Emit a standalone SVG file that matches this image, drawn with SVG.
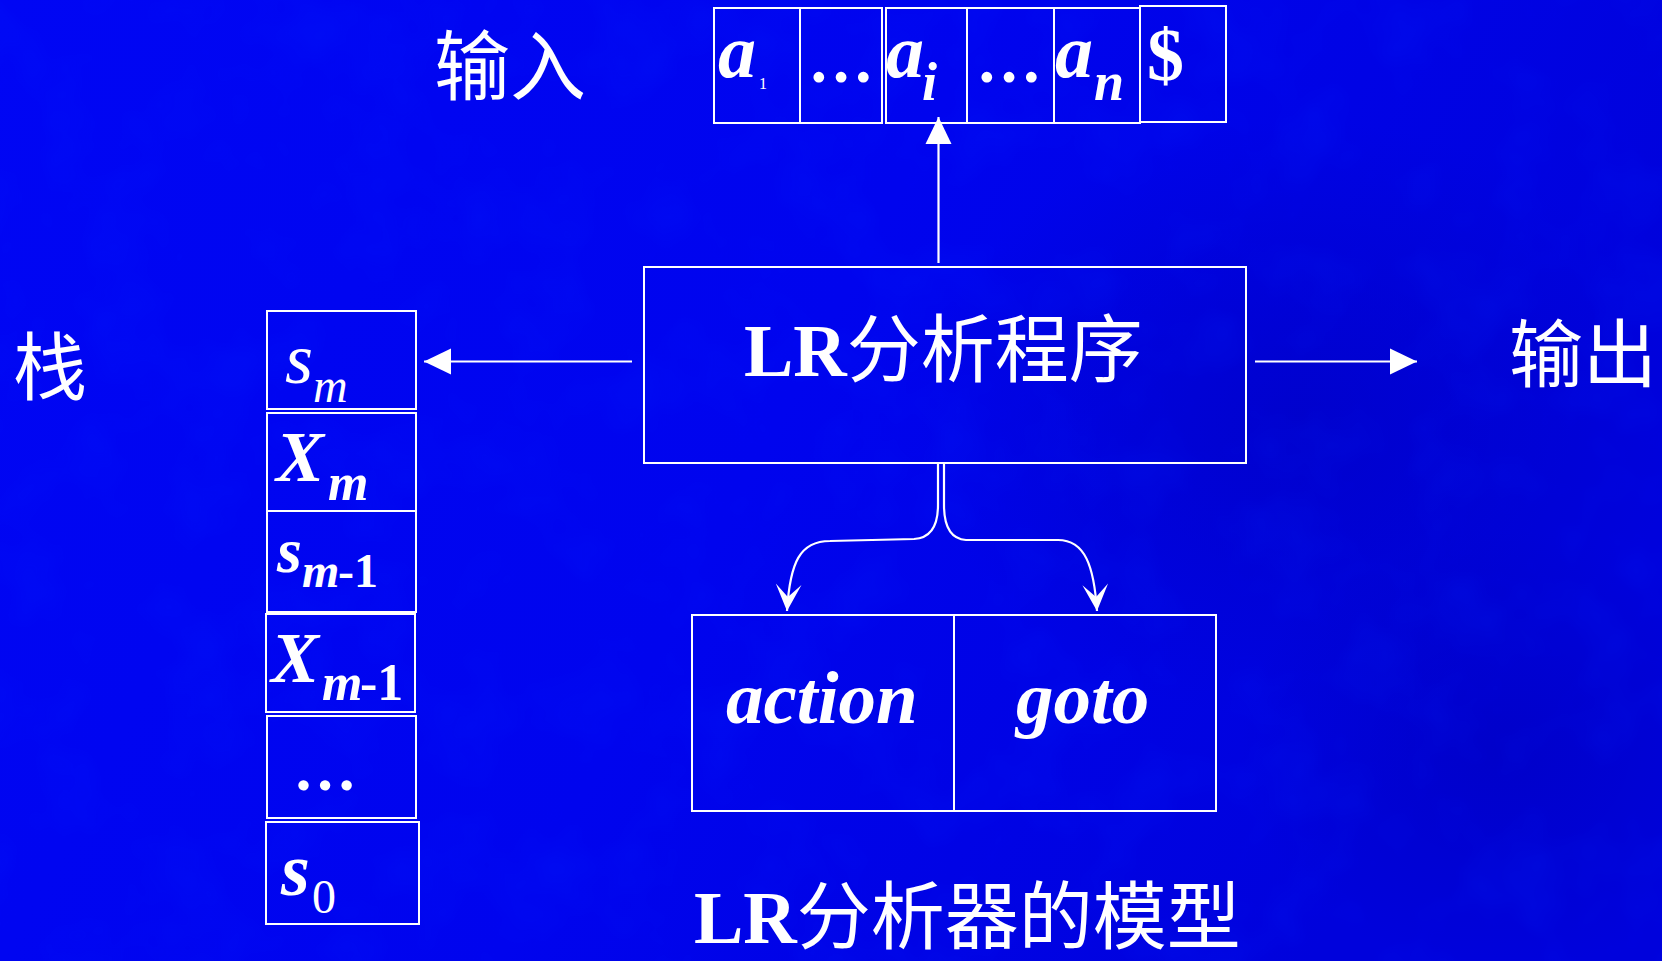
<svg xmlns="http://www.w3.org/2000/svg" width="1662" height="961" viewBox="0 0 1662 961">
<defs>
<linearGradient id="bg" x1="0" y1="0" x2="1" y2="0.3">
<stop offset="0" stop-color="#0006f4"/>
<stop offset="0.55" stop-color="#0004ee"/>
<stop offset="1" stop-color="#0002dc"/>
</linearGradient>
<radialGradient id="dark1" cx="0.5" cy="0.5" r="0.5">
<stop offset="0" stop-color="#0000b8" stop-opacity="0.5"/>
<stop offset="1" stop-color="#0000b8" stop-opacity="0"/>
</radialGradient>
<filter id="mottle" x="0" y="0" width="1" height="1">
<feTurbulence type="fractalNoise" baseFrequency="0.012" numOctaves="3" seed="7"/>
<feColorMatrix type="matrix" values="0 0 0 0 0  0 0 0 0 0.02  0 0 0 0 1  0 0 0 -1.6 0.9"/>
</filter>
<marker id="stealth" markerWidth="30" markerHeight="30" refX="0" refY="0" viewBox="-26 -14 28 28" orient="auto" markerUnits="userSpaceOnUse">
<path d="M0,0 L-25,-12 L-13,0 L-25,12 Z" fill="#fff"/>
</marker>
<marker id="tri" markerWidth="30" markerHeight="30" refX="0" refY="0" viewBox="-28 -14 30 28" orient="auto" markerUnits="userSpaceOnUse">
<path d="M0,0 L-27,-13 L-27,13 Z" fill="#fff"/>
</marker>
</defs>
<style>
.box{fill:none;stroke:#fff;stroke-width:2}
.ln{fill:none;stroke:#fff;stroke-width:2.2}
.t{fill:#fff;font-family:"Liberation Serif","Times New Roman",serif}
.bi{font-weight:bold;font-style:italic}
.i{font-style:italic}
.b{font-weight:bold}
.cjk{fill:#fff;font-family:"Liberation Serif","Noto Sans CJK SC",serif}
</style>
<rect x="0" y="0" width="1662" height="961" fill="url(#bg)"/>
<ellipse cx="1300" cy="420" rx="380" ry="300" fill="url(#dark1)"/>
<ellipse cx="1500" cy="750" rx="260" ry="220" fill="url(#dark1)"/>
<rect x="0" y="0" width="1662" height="961" filter="url(#mottle)" opacity="0.25"/>

<g id="label-input"><text class="cjk" x="434" y="94" font-size="76">输入</text></g>
<g id="label-stack"><text class="cjk" x="13" y="394" font-size="74">栈</text></g>
<g id="label-output"><text class="cjk" x="1509" y="381" font-size="74">输出</text></g>

<g id="input-tape">
<rect class="box" x="714" y="8" width="86" height="115"/>
<rect class="box" x="800" y="8" width="82" height="115"/>
<rect class="box" x="886" y="8" width="81" height="115"/>
<rect class="box" x="967" y="8" width="87" height="115"/>
<rect class="box" x="1054" y="8" width="86" height="115"/>
<rect class="box" x="1140" y="6" width="86" height="116"/>
<text class="t bi" x="718" y="77" font-size="76">a</text>
<text class="t" x="759" y="89" font-size="16">1</text>
<text class="t b" x="808" y="82" font-size="66">…</text>
<text class="t bi" x="886" y="77" font-size="76">a</text>
<text class="t bi" x="922" y="100" font-size="54">i</text>
<text class="t b" x="976" y="82" font-size="66">…</text>
<text class="t bi" x="1055" y="77" font-size="76">a</text>
<text class="t bi" x="1094" y="100" font-size="54">n</text>
<text class="t b" x="1147" y="80" font-size="74">$</text>
</g>

<g id="stack">
<rect class="box" x="267" y="311" width="149" height="98"/>
<rect class="box" x="267" y="413" width="149" height="98"/>
<rect class="box" x="267" y="511" width="149" height="101"/>
<rect class="box" x="266" y="614" width="149" height="98"/>
<rect class="box" x="267" y="716" width="149" height="102"/>
<rect class="box" x="266" y="822" width="153" height="102"/>
<text class="t i" x="285" y="383" font-size="72">s</text>
<text class="t i" x="313" y="402" font-size="48">m</text>
<text class="t bi" x="276" y="481" font-size="72">X</text>
<text class="t bi" x="328" y="500" font-size="52">m</text>
<text class="t bi" x="277" y="572" font-size="64">s</text>
<text class="t bi" x="302" y="587" font-size="48">m</text>
<text class="t b" x="338" y="587" font-size="48">-1</text>
<text class="t bi" x="271" y="682" font-size="72">X</text>
<text class="t bi" x="322" y="700" font-size="52">m</text>
<text class="t b" x="360" y="700" font-size="52">-1</text>
<text class="t b" x="293" y="790" font-size="64">…</text>
<text class="t bi" x="281" y="895" font-size="74">s</text>
<text class="t" x="312" y="913" font-size="48">0</text>
</g>

<g id="lr-program">
<rect class="box" x="644" y="267" width="602" height="196"/>
<text class="cjk" x="744" y="376" font-size="74"><tspan class="b" font-family="Liberation Serif">LR</tspan>分析程序</text>
</g>

<g id="tables">
<rect class="box" x="692" y="615" width="262" height="196"/>
<rect class="box" x="954" y="615" width="262" height="196"/>
<text class="t bi" x="726" y="723" font-size="75">action</text>
<text class="t bi" x="1016" y="723" font-size="75">goto</text>
</g>

<g id="title">
<text class="cjk" x="694" y="943" font-size="74"><tspan class="b" font-family="Liberation Serif">LR</tspan>分析器的模型</text>
</g>

<g id="connectors">
<line class="ln" x1="938.5" y1="263" x2="938.5" y2="117" marker-end="url(#tri)"/>
<line class="ln" x1="632" y1="361.5" x2="424" y2="361.5" marker-end="url(#tri)"/>
<line class="ln" x1="1255" y1="361.5" x2="1417" y2="361.5" marker-end="url(#tri)"/>
<path class="ln" d="M938,463 L938,505 C938,526 931,538 914,539 L830,541 C800,541 790,562 787,611" marker-end="url(#stealth)"/>
<path class="ln" d="M944,463 L944,505 C944,526 951,539 966,540 L1058,540 C1085,540 1094,566 1097,611" marker-end="url(#stealth)"/>
</g>
</svg>
